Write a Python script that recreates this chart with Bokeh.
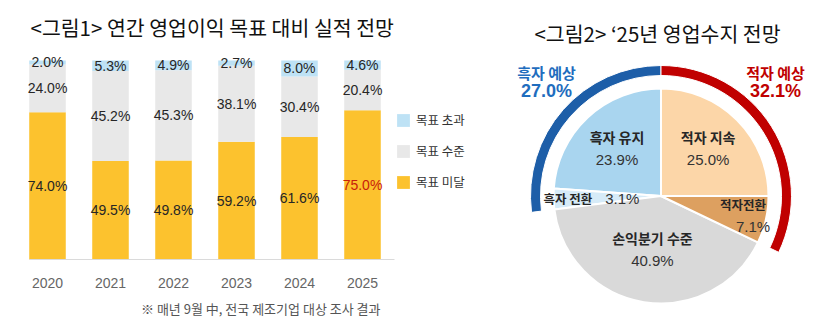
import numpy as np
from bokeh.plotting import figure
from bokeh.models import (ColumnDataSource, Range1d, Legend, LegendItem,
                          LinearAxis, FixedTicker)
from bokeh.embed import file_html
from bokeh.resources import INLINE
from bokeh.core.properties import value

# ---------------- data ----------------
years = ["2020", "2021", "2022", "2023", "2024", "2025"]
miss = [74.0, 49.5, 49.8, 59.2, 61.6, 75.0]    # 목표 미달
meet = [24.0, 45.2, 45.3, 38.1, 30.4, 20.4]    # 목표 수준
exceed = [2.0, 5.3, 4.9, 2.7, 8.0, 4.6]        # 목표 초과
series_names = ["목표 미달", "목표 수준", "목표 초과"]

pie_names = ["흑자 유지", "흑자 전환", "손익분기 수준", "적자전환", "적자 지속"]
pie_values = [23.9, 3.1, 40.9, 7.1, 25.0]
ring_names = ["흑자 예상", "적자 예상"]
ring_values = [27.0, 32.1]

title1 = "<그림1> 연간 영업이익 목표 대비 실적 전망"
title2 = "<그림2> ‘25년 영업수지 전망"
footnote = "※ 매년 9월 中, 전국 제조기업 대상 조사 결과"

KR = "Noto Sans CJK KR"
NUM = "Liberation Sans"
W, H = 831, 330

# ---------------- figure (bar scales = main ranges) ----------------
step = 63.0          # px per category
y_px = 1.99          # px per percentage point
p = figure(width=W, height=H,
           x_range=Range1d(-47 / step, (W - 47) / step),
           y_range=Range1d(-(H - 259) / y_px, 100 + 60 / y_px),
           min_border=0, x_axis_location=None, y_axis_location=None,
           output_backend="svg", toolbar_location=None)
p.outline_line_color = None
p.grid.visible = False
p.extra_x_ranges = {"px": Range1d(0, W)}
p.extra_y_ranges = {"py": Range1d(0, H)}

# ---------------- bar chart ----------------
YEL, GRY, BLU = "#FCC22E", "#E8E8E8", "#BEE2F5"
idx = list(range(len(years)))
src = ColumnDataSource(dict(idx=idx, miss=miss, meet=meet, exceed=exceed))
rs = p.vbar_stack(["miss", "meet", "exceed"], x="idx", width=0.58,
                  color=[YEL, GRY, BLU], line_color=None, source=src)

m = np.array(miss); t = np.array(meet); e = np.array(exceed)
lab_y = list(m / 2) + list(m + t / 2) + list(m + t + e / 2)
lab_txt = [f"{v:.1f}%" for v in miss + meet + exceed]
lab_col = ["#262626"] * len(lab_txt)
lab_col[len(years) - 1] = "#C8200A"
lab_src = ColumnDataSource(dict(x=idx * 3, y=lab_y, text=lab_txt, color=lab_col))
p.text(x="x", y="y", text="text", text_color="color", source=lab_src,
       text_align="center", text_baseline="middle",
       text_font=value(NUM), text_font_size="14px")

ax = LinearAxis(fixed_location=0, ticker=FixedTicker(ticks=idx),
                major_label_overrides={i: y for i, y in zip(idx, years)},
                bounds=(-0.29, len(years) - 0.5))
ax.axis_line_color = "#DADADA"
ax.major_tick_line_color = None
ax.minor_tick_line_color = None
ax.major_label_text_font = NUM
ax.major_label_text_font_size = "14px"
ax.major_label_text_color = "#666666"
ax.major_label_standoff = 12
p.add_layout(ax, "below")

legend = Legend(items=[LegendItem(label=series_names[2], renderers=[rs[2]]),
                       LegendItem(label=series_names[1], renderers=[rs[1]]),
                       LegendItem(label=series_names[0], renderers=[rs[0]])],
                location=(395, H - 191), glyph_width=16, glyph_height=16, label_height=16,
                spacing=12, padding=0, margin=0, label_standoff=5,
                border_line_color=None, background_fill_alpha=0,
                label_text_font=KR, label_text_font_size="12.5px", label_text_color="#333333")
p.add_layout(legend)

p.text(x=[30], y=[H - 26], text=[title1], text_baseline="middle",
       text_font=value(KR), text_font_size="20.5px", text_color="#111111",
       x_range_name="px", y_range_name="py")
p.text(x=[380], y=[H - 308], text=[footnote], text_align="right", text_baseline="middle",
       text_font=value(KR), text_font_size="13px", text_color="#555555",
       x_range_name="px", y_range_name="py")

# ---------------- pie chart (pixel-like extra ranges) ----------------
R = 107.5
CX, CY = 660.5, H - 195.5
pie_colors = ["#A9D5EF", "#D6EBF8", "#D9D9D9", "#DDA060", "#FCD6A8"]
vals = np.array(pie_values)
start = np.deg2rad(90 + 3.6 * (np.cumsum(vals) - vals))
end = np.deg2rad(90 + 3.6 * np.cumsum(vals))
p.wedge(x=CX, y=CY, radius=R, start_angle=start, end_angle=end,
        fill_color=pie_colors, line_color="white", line_width=2,
        x_range_name="px", y_range_name="py")

rb = np.deg2rad(3.6 * ring_values[0])
rr = np.deg2rad(3.6 * ring_values[1])
p.annular_wedge(x=CX, y=CY, inner_radius=120.5, outer_radius=130.5,
                start_angle=[np.pi / 2, np.pi / 2 - rr], end_angle=[np.pi / 2 + rb, np.pi / 2],
                fill_color=["#1D5EA8", "#C00000"], line_color="white", line_width=1,
                x_range_name="px", y_range_name="py")

mid = (start + end) / 2
lr = np.array([0.60, 0.36, 0.50, 0.84, 0.62]) * R
cx = CX + lr * np.cos(mid)
cy = CY + lr * np.sin(mid)
name_x = list(cx); name_y = list(cy + 11.5)
pct_x = list(cx); pct_y = list(cy - 11)
name_align = ["center"] * 5
name_x[1] = cx[1] - 30; name_y[1] = cy[1] - 1; pct_y[1] = cy[1] - 1
name_align[1] = "right"
name_x[3] = cx[3] - 6; pct_x[3] = cx[3] + 4
name_size = ["14px", "12.5px", "14px", "12.5px", "14px"]
pct_txt = [f"{v:.1f}%" for v in pie_values]

p.text(x=name_x, y=name_y, text=pie_names, text_align=name_align, text_baseline="middle",
       text_font=value(KR), text_font_style="bold", text_font_size=name_size,
       text_color="#262626", x_range_name="px", y_range_name="py")
p.text(x=pct_x, y=pct_y, text=pct_txt, text_align="center", text_baseline="middle",
       text_font=value(NUM), text_font_size="15px", text_color="#333333",
       x_range_name="px", y_range_name="py")

ra = np.deg2rad([135, 45])
rx = CX + 162 * np.cos(ra)
ry = CY + 162 * np.sin(ra)
ring_col = ["#1F6DBE", "#C00000"]
p.text(x=rx, y=ry + 9, text=ring_names, text_align="center", text_baseline="middle",
       text_font=value(KR), text_font_style="bold", text_font_size="15px",
       text_color=ring_col, x_range_name="px", y_range_name="py")
p.text(x=rx, y=ry - 10, text=[f"{v:.1f}%" for v in ring_values], text_align="center",
       text_baseline="middle", text_font=value(NUM), text_font_style="bold",
       text_font_size="18px", text_color=ring_col, x_range_name="px", y_range_name="py")

p.text(x=[657], y=[H - 32], text=[title2], text_align="center", text_baseline="middle",
       text_font=value(KR), text_font_size="20.5px", text_color="#111111",
       x_range_name="px", y_range_name="py")

open("out.html", "w").write(file_html(p, INLINE))
